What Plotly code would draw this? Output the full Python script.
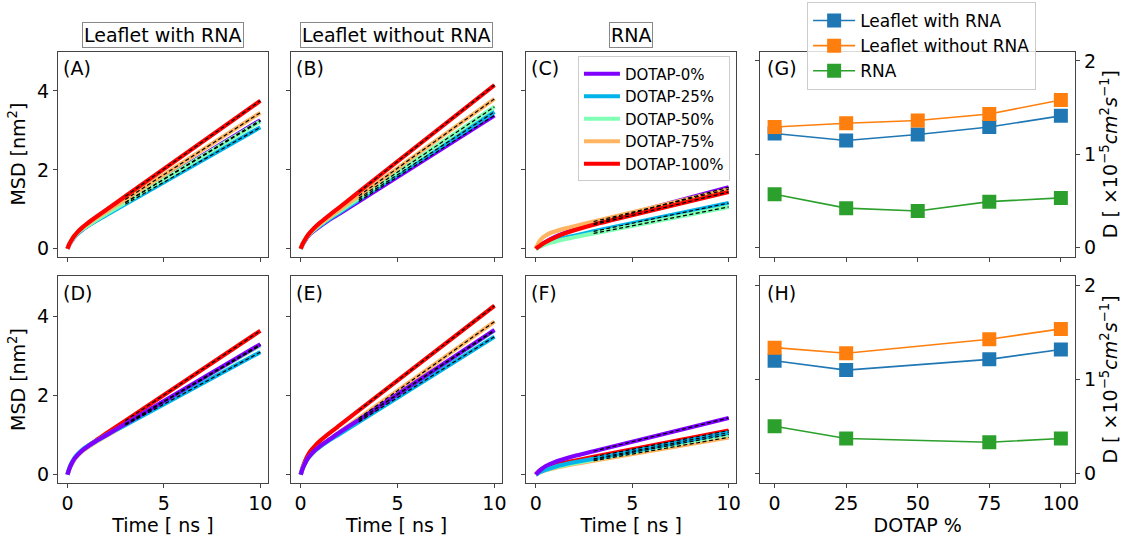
import plotly.graph_objects as go

# ---------------- data ----------------
t_ns = [0, 0.1, 0.2, 0.35, 0.5, 0.75, 1.0, 1.5, 2.0, 3.0, 10.0]
labels = ["DOTAP-0%", "DOTAP-25%", "DOTAP-50%", "DOTAP-75%", "DOTAP-100%"]
colors = ["#8000ff", "#00b4eb", "#80ffb4", "#ffb462", "#ff0000"]

# (A) leaflet with RNA, top row
A_0 = [0, 0.11, 0.19, 0.29, 0.37, 0.47, 0.56, 0.72, 0.87, 1.17, 3.26]
A_25 = [0, 0.11, 0.20, 0.30, 0.37, 0.48, 0.56, 0.71, 0.85, 1.13, 3.08]
A_50 = [0, 0.11, 0.20, 0.30, 0.38, 0.49, 0.57, 0.73, 0.88, 1.17, 3.23]
A_75 = [0, 0.12, 0.21, 0.32, 0.41, 0.52, 0.61, 0.78, 0.94, 1.25, 3.45]
A_100 = [0, 0.12, 0.21, 0.32, 0.41, 0.53, 0.63, 0.81, 0.98, 1.33, 3.75]
# (B) leaflet without RNA
B_0 = [0, 0.11, 0.19, 0.30, 0.38, 0.48, 0.57, 0.74, 0.89, 1.20, 3.38]
B_25 = [0, 0.11, 0.20, 0.31, 0.39, 0.50, 0.59, 0.76, 0.92, 1.24, 3.47]
B_50 = [0, 0.12, 0.21, 0.32, 0.40, 0.51, 0.61, 0.79, 0.95, 1.28, 3.60]
B_75 = [0, 0.12, 0.21, 0.32, 0.41, 0.53, 0.63, 0.81, 0.99, 1.34, 3.80]
B_100 = [0, 0.12, 0.21, 0.33, 0.42, 0.55, 0.66, 0.86, 1.05, 1.44, 4.15]
# (C) RNA
C_0 = [0, 0.04, 0.075, 0.125, 0.17, 0.24, 0.30, 0.40, 0.49, 0.64, 1.56]
C_25 = [0, 0.03, 0.06, 0.10, 0.13, 0.18, 0.22, 0.28, 0.33, 0.44, 1.16]
C_50 = [0, 0.03, 0.05, 0.08, 0.11, 0.15, 0.18, 0.24, 0.29, 0.39, 1.06]
C_75 = [0, 0.11, 0.19, 0.28, 0.33, 0.40, 0.44, 0.51, 0.57, 0.69, 1.51]
C_100 = [0, 0.04, 0.07, 0.12, 0.165, 0.23, 0.29, 0.39, 0.47, 0.61, 1.44]
# (D) leaflet with RNA, bottom row
D_0 = [0, 0.15, 0.26, 0.39, 0.48, 0.60, 0.69, 0.85, 0.99, 1.28, 3.29]
D_25 = [0, 0.16, 0.28, 0.41, 0.50, 0.62, 0.71, 0.85, 0.99, 1.25, 3.09]
D_50 = [0, 0.15, 0.26, 0.39, 0.48, 0.60, 0.69, 0.84, 0.99, 1.27, 3.26]
D_75 = [0, 0.14, 0.25, 0.38, 0.47, 0.58, 0.67, 0.83, 0.97, 1.26, 3.27]
D_100 = [0, 0.14, 0.26, 0.38, 0.48, 0.60, 0.70, 0.87, 1.04, 1.36, 3.63]
# (E) leaflet without RNA
E_0 = [0, 0.15, 0.26, 0.40, 0.49, 0.62, 0.72, 0.89, 1.06, 1.38, 3.65]
E_25 = [0, 0.15, 0.26, 0.39, 0.49, 0.61, 0.70, 0.87, 1.02, 1.33, 3.48]
E_50 = [0, 0.15, 0.26, 0.39, 0.48, 0.61, 0.71, 0.88, 1.05, 1.37, 3.63]
E_75 = [0, 0.14, 0.25, 0.38, 0.47, 0.60, 0.71, 0.89, 1.07, 1.42, 3.86]
E_100 = [0, 0.18, 0.31, 0.47, 0.59, 0.73, 0.85, 1.05, 1.24, 1.62, 4.26]
# (F) RNA
F_0 = [0, 0.05, 0.10, 0.16, 0.21, 0.27, 0.32, 0.40, 0.47, 0.59, 1.43]
F_25 = [0, 0.03, 0.06, 0.09, 0.12, 0.16, 0.20, 0.26, 0.31, 0.40, 1.06]
F_50 = [0, 0.03, 0.06, 0.09, 0.11, 0.15, 0.19, 0.24, 0.29, 0.38, 1.01]
F_75 = [0, 0.03, 0.05, 0.08, 0.11, 0.14, 0.17, 0.22, 0.27, 0.35, 0.94]
F_100 = [0, 0.06, 0.10, 0.14, 0.18, 0.22, 0.25, 0.30, 0.35, 0.45, 1.11]

fit_t = [3.0, 10.0]

dotap_G = [0, 25, 50, 75, 100]
G_with = [1.22, 1.145, 1.21, 1.29, 1.41]
G_without = [1.29, 1.33, 1.36, 1.43, 1.58]
G_rna = [0.57, 0.42, 0.39, 0.49, 0.53]

dotap_H = [0, 25, 75, 100]
H_with = [1.20, 1.10, 1.215, 1.32]
H_without = [1.34, 1.28, 1.43, 1.54]
H_rna = [0.50, 0.37, 0.33, 0.37]

panel_titles = ["Leaflet with RNA", "Leaflet without RNA", "RNA"]

# ---------------- figure ----------------
W, H = 1130, 541
FONT = "DejaVu Sans"
fig = go.Figure()

xdom = {1: (58, 269), 2: (292, 504), 3: (528, 739), 4: (763, 1079)}
ydom = {0: (50, 257), 1: (277, 485)}

def xd(c):
    a, b = xdom[c]
    return [a / W, b / W]

def yd(r):
    a, b = ydom[r]
    return [1 - b / H, 1 - a / H]

panels = {1: "A", 2: "B", 3: "C", 4: "G", 5: "D", 6: "E", 7: "F", 8: "H"}
msd = {
    1: [A_0, A_25, A_50, A_75, A_100],
    2: [B_0, B_25, B_50, B_75, B_100],
    3: [C_0, C_25, C_50, C_75, C_100],
    5: [D_0, D_25, D_50, D_75, D_100],
    6: [E_0, E_25, E_50, E_75, E_100],
    7: [F_0, F_25, F_50, F_75, F_100],
}

def ax(i):
    return ("x" if i == 1 else f"x{i}"), ("y" if i == 1 else f"y{i}")

for i, series in msd.items():
    xa, ya = ax(i)
    order = range(5) if i <= 4 else range(4, -1, -1)
    for k in order:
        fig.add_trace(go.Scatter(
            x=t_ns, y=series[k], mode="lines", xaxis=xa, yaxis=ya,
            line=dict(color=colors[k], width=4.2, shape="spline", smoothing=0.6),
            name=labels[k],
            showlegend=(i == 3), legend="legend", legendgroup=f"g{k}",
            legendrank=k))
    for k in order:
        fig.add_trace(go.Scatter(
            x=fit_t, y=[series[k][-2], series[k][-1]], mode="lines",
            xaxis=xa, yaxis=ya, line=dict(color="black", width=1.2, dash="4px,2.5px"),
            showlegend=False))

dcol = ["#1f77b4", "#ff7f0e", "#2ca02c"]
dnames = ["Leaflet with RNA", "Leaflet without RNA", "RNA"]
for i, xs, ys in [(4, dotap_G, [G_with, G_without, G_rna]), (8, dotap_H, [H_with, H_without, H_rna])]:
    xa, ya = ax(i)
    for k in range(3):
        fig.add_trace(go.Scatter(
            x=xs, y=ys[k], mode="lines+markers", xaxis=xa, yaxis=ya,
            line=dict(color=dcol[k], width=1.6),
            marker=dict(symbol="square", size=14, color=dcol[k]),
            name=dnames[k], showlegend=(i == 4), legend="legend2"))

axcommon = dict(showline=True, linecolor="#444", linewidth=1, ticks="outside",
                ticklen=4, tickcolor="#444", showgrid=False, zeroline=False,
                tickfont=dict(size=19, color="black", family=FONT))

layout = {}
for i in range(1, 9):
    row = 0 if i <= 4 else 1
    col = i if i <= 4 else i - 4
    xname = "xaxis" if i == 1 else f"xaxis{i}"
    yname = "yaxis" if i == 1 else f"yaxis{i}"
    xa, ya = ax(i)
    if col < 4:
        xopts = dict(range=[-0.5, 10.4], tickvals=[0, 5, 10], mirror=True,
                     showticklabels=(row == 1))
        if row == 1:
            xopts["title"] = dict(text="Time [ ns ]", font=dict(size=19, family=FONT, color="black"), standoff=3)
        yopts = dict(range=[-0.2, 5.0], tickvals=[0, 2, 4], mirror=True,
                     showticklabels=(col == 1))
        if col == 1:
            yopts["title"] = dict(text="MSD [nm<sup>2</sup>]", font=dict(size=19, family=FONT, color="black"), standoff=6)
    else:
        xopts = dict(range=[-5, 105], tickvals=[0, 25, 50, 75, 100], mirror=True,
                     showticklabels=(row == 1))
        if row == 1:
            xopts["title"] = dict(text="DOTAP %", font=dict(size=19, family=FONT, color="black"), standoff=3)
        yopts = dict(range=[-0.1, 2.1], tickvals=[0, 1, 2], side="right", mirror="ticks",
                     title=dict(text="D [ ×10<sup>−5</sup><i>cm</i><sup>2</sup><i>s</i><sup>−1</sup>]",
                                font=dict(size=19, family=FONT, color="black"), standoff=8))
    layout[xname] = dict(domain=xd(col), anchor=ya, **axcommon, **xopts)
    layout[yname] = dict(domain=yd(row), anchor=xa, **axcommon, **yopts)

annotations = []
for i, letter in panels.items():
    xa, ya = ax(i)
    annotations.append(dict(text=f"({letter})", xref=f"{xa} domain", yref=f"{ya} domain",
                            x=0.015, y=0.985, xanchor="left", yanchor="top", showarrow=False,
                            font=dict(size=19, family=FONT, color="black")))
for c, title in enumerate(panel_titles, start=1):
    d = xd(c)
    annotations.append(dict(text=title, xref="paper", yref="paper",
                            x=(d[0] + d[1]) / 2, y=1 - 33 / H, xanchor="center", yanchor="middle",
                            showarrow=False, bordercolor="#888", borderwidth=1, borderpad=1,
                            bgcolor="white", font=dict(size=19, family=FONT, color="black")))

fig.update_layout(
    width=W, height=H, margin=dict(l=0, r=0, t=0, b=0),
    paper_bgcolor="white", plot_bgcolor="white",
    font=dict(family=FONT, size=19, color="black"),
    annotations=annotations,
    legend=dict(x=580 / W, y=1 - 55 / H, xanchor="left", yanchor="top",
                bgcolor="rgba(255,255,255,0.8)", bordercolor="#ccc", borderwidth=1,
                font=dict(size=15, family=FONT, color="black"), itemwidth=36,
                tracegroupgap=0),
    legend2=dict(x=810 / W, y=1.0, xanchor="left", yanchor="top",
                 bgcolor="rgba(255,255,255,0.8)", bordercolor="#ccc", borderwidth=1,
                 font=dict(size=17, family=FONT, color="black"), itemwidth=42),
    **layout,
)

fig.write_html("out.html")
